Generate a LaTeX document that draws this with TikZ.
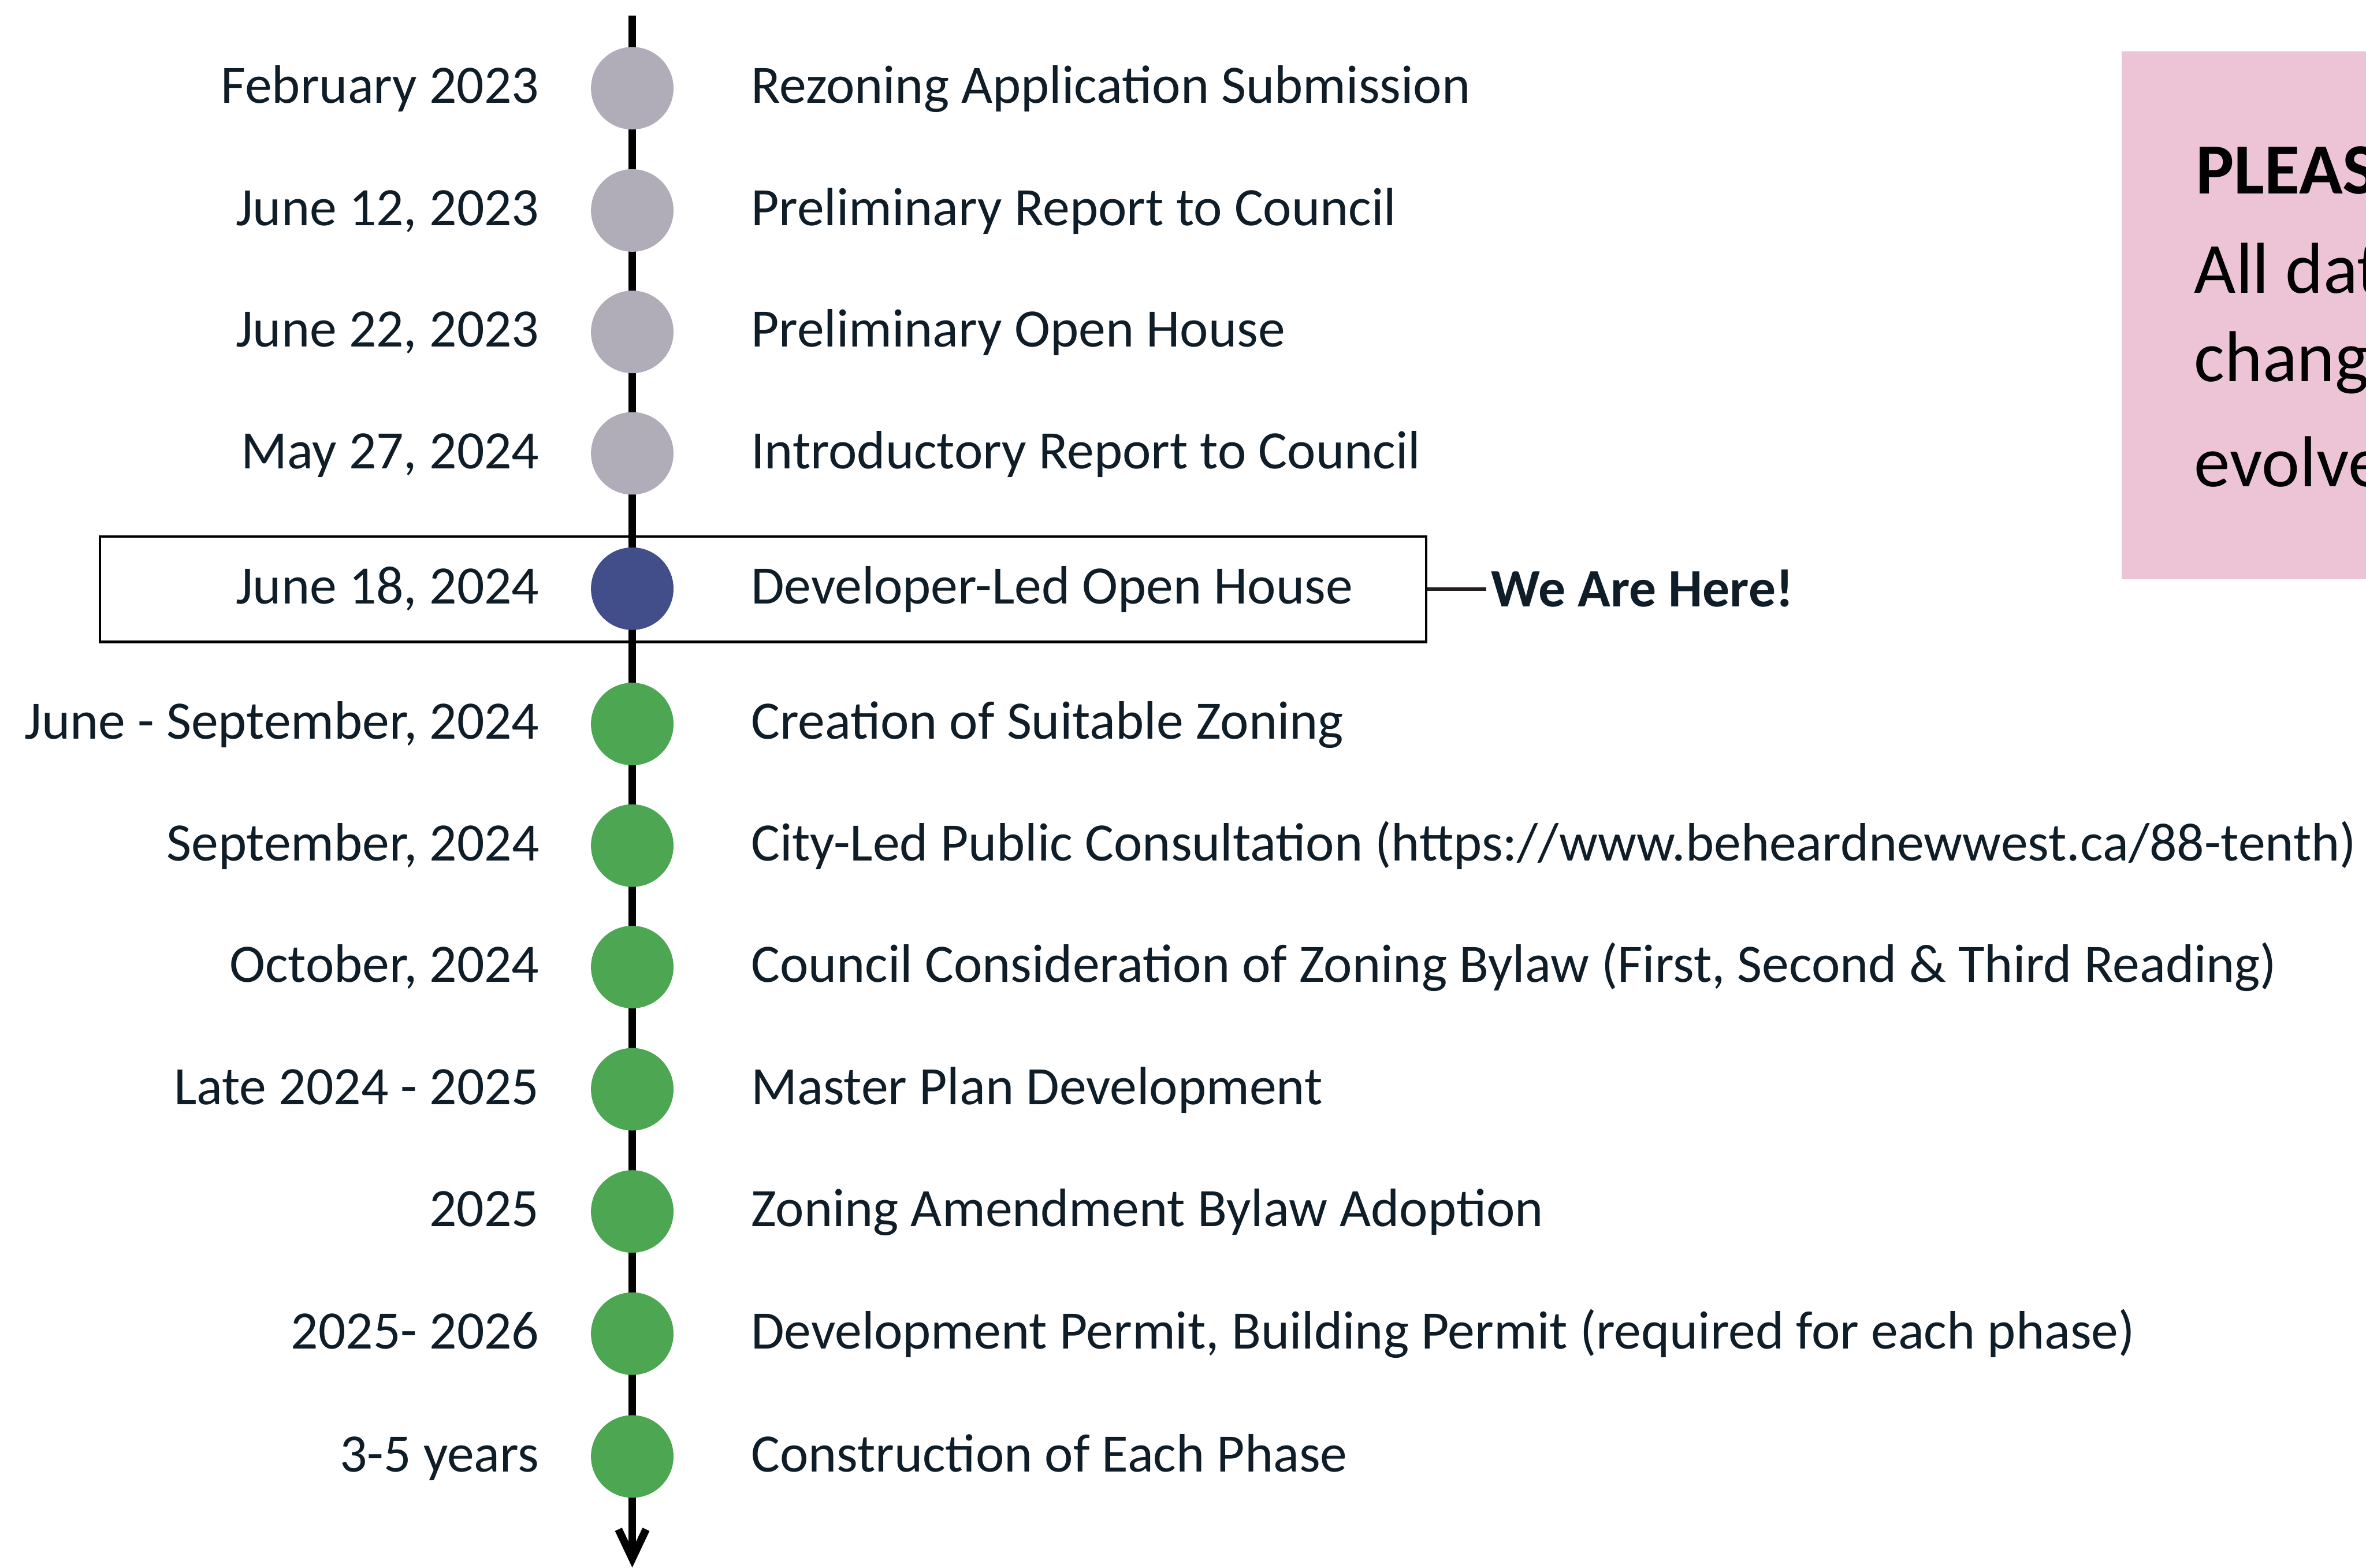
\documentclass[tikz,border=0pt]{standalone}
\usepackage{fontspec}
\setmainfont{Carlito}
\usetikzlibrary{arrows.meta, positioning}
\definecolor{inktext}{HTML}{0E1D28}
\definecolor{pastdot}{HTML}{B0ADB8}
\definecolor{nowdot}{HTML}{424E8A}
\definecolor{nextdot}{HTML}{4CA652}
\definecolor{notebg}{HTML}{ECC4D6}
\definecolor{leader}{HTML}{231F20}

\begin{document}
\begin{tikzpicture}[
    dot/.style={circle, minimum size=0.547cm, inner sep=0pt},
    datelbl/.style={anchor=base east, inner sep=0pt, text=inktext,
                    font=\fontsize{10.2}{12}\selectfont},
    eventlbl/.style={anchor=base west, inner sep=0pt, text=inktext,
                     font=\fontsize{10.2}{12}\selectfont},
    notelbl/.style={anchor=base west, inner sep=0pt,
                    font=\fontsize{13.6}{16}\selectfont},
    >={Straight Barb[length=5.5pt, width=5.2pt]}
  ]
  \useasboundingbox (0,0) rectangle (15.68,-10.39);

  % Note panel, running off the right edge
  \fill[notebg] (14.06,-0.34) rectangle (15.9,-3.84);
  \node[notelbl, font=\fontsize{13.6}{16}\selectfont\bfseries] (note1) at (14.545,-1.286) {PLEAS};
  \node[notelbl] (note2) at (14.535,-1.944) {All dat};
  \node[notelbl] (note3) at (14.535,-2.527) {chang};
  \node[notelbl] (note4) at (14.535,-3.227) {evolve};

  % Timeline axis
  \coordinate (top) at (4.19,-0.104);
  \coordinate (bottom) at (4.19,-10.39);
  \draw[->, line width=1.45pt] (top) -- (bottom);

  % Milestones: y / date / event / colour
  \foreach \y/\d/\e/\c [count=\i] in {
      0.585/{February 2023}/{Rezoning Application Submission}/pastdot,
      1.395/{June 12, 2023}/{Preliminary Report to Council}/pastdot,
      2.200/{June 22, 2023}/{Preliminary Open House}/pastdot,
      3.005/{May 27, 2024}/{Introductory Report to Council}/pastdot,
      3.902/{June 18, 2024}/{Developer-Led Open House}/nowdot,
      4.799/{June - September, 2024}/{Creation of Suitable Zoning}/nextdot,
      5.605/{September, 2024}/{City-Led Public Consultation (https://www.beheardnewwest.ca/88-tenth)}/nextdot,
      6.410/{October, 2024}/{Council Consideration of Zoning Bylaw (First, Second \& Third Reading)}/nextdot,
      7.220/{Late 2024 - 2025}/{Master Plan Development}/nextdot,
      8.030/{2025}/{Zoning Amendment Bylaw Adoption}/nextdot,
      8.840/{2025- 2026}/{Development Permit, Building Permit (required for each phase)}/nextdot,
      9.654/{3-5 years}/{Construction of Each Phase}/nextdot} {
    \node[dot, fill=\c] (m\i) at (4.19,-\y) {};
    \node[datelbl] (d\i) at (3.58,-\y-0.1) {\d};
    \node[eventlbl] (e\i) at (4.97,-\y-0.1) {\e};
  }

  % Current stage
  \node[draw, line width=0.45pt, minimum width=8.79cm, minimum height=0.70cm,
        inner sep=0pt] (nowbox) at (5.057,-3.905) {};
  \node[eventlbl, inner sep=0.25mm,
        font=\fontsize{10.2}{12}\selectfont\bfseries] (here) at (9.851,-4.02) {We Are Here!};
  \draw[line width=0.6pt, leader] (nowbox.east) -- (nowbox.east -| here.west);
\end{tikzpicture}
\end{document}
